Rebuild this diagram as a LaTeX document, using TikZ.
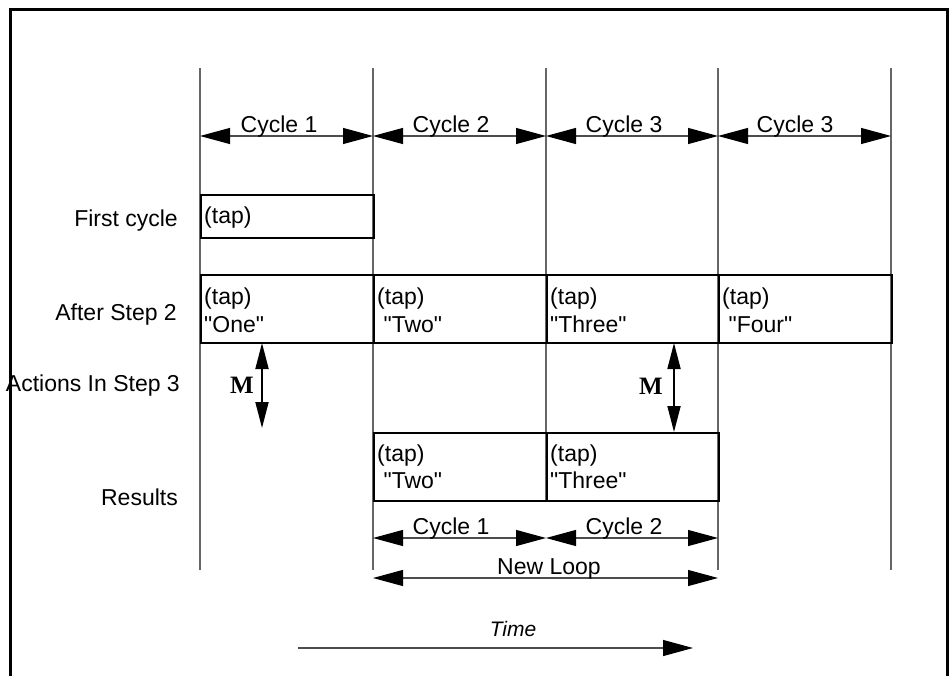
\documentclass[tikz,border=0pt]{standalone}
\usepackage{fontspec}
\setmainfont{Liberation Sans}[Ligatures=TeXOff]
\newfontfamily\mfont{Liberation Serif}
\usetikzlibrary{arrows.meta}
\newcommand\dq{\symbol{34}}
\begin{document}
\begin{tikzpicture}[x=1pt,y=-1pt,
  every node/.style={font=\fontsize{23}{28}\selectfont},
  grid/.style={draw=black!60,line width=1.1pt},
  frameline/.style={line width=3pt,black},
  tip/.style={},
  dim/.style={draw=black!70,line width=1.1pt,
    {Triangle[length=30pt,width=16pt,black]}-{Triangle[length=30pt,width=16pt,black]}},
  onedir/.style={draw=black!70,line width=1.1pt,-{Triangle[length=30pt,width=16pt,black]}},
  marrow/.style={draw=black,line width=1.8pt,
    {Triangle[length=26pt,width=13pt]}-{Triangle[length=26pt,width=13pt]}},
  slot/.style={draw=black,line width=2pt,rectangle,inner sep=0pt,anchor=north west,
    minimum height=68pt},
  lbl/.style={anchor=base,inner sep=0pt},
  rowlbl/.style={anchor=base east,inner sep=0pt},
  txt/.style={anchor=base west,inner sep=0pt},
  mlbl/.style={anchor=base,inner sep=0pt,font=\mfont\bfseries\fontsize{25}{28}\selectfont}]
\useasboundingbox (0,0) rectangle (949,676);

% outer frame, open at the bottom
\coordinate (fl) at (10.5,680);
\coordinate (ftl) at (10.5,10);
\coordinate (ftr) at (947,10);
\coordinate (fr) at (947,680);
\draw[frameline] (fl) -- (ftl) -- (ftr) -- (fr);

% time grid
\foreach \i/\x/\y in {1/200/570,2/373/570,3/546/500,4/718/570,5/891/570}{
  \coordinate (t\i) at (\x,68);
  \coordinate (b\i) at (\x,\y);
  \coordinate (c\i) at (\x,136);
  \draw[grid] (t\i) -- (b\i);
}

% cycle dimensions along the top
\draw[dim] (c1) -- (c2);
\draw[dim] (c2) -- (c3);
\draw[dim] (c3) -- (c4);
\draw[dim] (c4) -- (c5);
\node[lbl] (cy1) at (279,133) {Cycle 1};
\node[lbl] (cy2) at (451,133) {Cycle 2};
\node[lbl] (cy3) at (624,133) {Cycle 3};
\node[lbl] (cy4) at (795,133) {Cycle 3};

% row captions
\node[rowlbl] (r1) at (178,226) {First cycle};
\node[rowlbl] (r2) at (177,320) {After Step 2};
\node[rowlbl] (r3) at (180,391) {Actions In Step 3};
\node[rowlbl] (r4) at (178,505) {Results};

% first cycle
\node[slot,minimum width=173pt,minimum height=43pt] (f1) at (200,194) {};
\node[txt] (f1a) at (204,224) {(tap)};

% after step 2
\node[slot,minimum width=173pt] (a1) at (200,274) {};
\node[slot,minimum width=173pt] (a2) at (373,274) {};
\node[slot,minimum width=172pt] (a3) at (546,274) {};
\node[slot,minimum width=173pt] (a4) at (718,274) {};
\node[txt] (a1a) at (204,304) {(tap)};
\node[txt] (a1b) at (204,332) {\dq One\dq};
\node[txt] (a2a) at (377,304) {(tap)};
\node[txt] (a2b) at (377,332) {\ \dq Two\dq};
\node[txt] (a3a) at (550,304) {(tap)};
\node[txt] (a3b) at (550,332) {\dq Three\dq};
\node[txt] (a4a) at (722,304) {(tap)};
\node[txt] (a4b) at (722,332) {\ \dq Four\dq};

% results
\node[slot,minimum width=173pt] (s1) at (373,432) {};
\node[slot,minimum width=172pt] (s2) at (546,432) {};
\node[txt] (s1a) at (377,461) {(tap)};
\node[txt] (s1b) at (377,488) {\ \dq Two\dq};
\node[txt] (s2a) at (550,461) {(tap)};
\node[txt] (s2b) at (550,488) {\dq Three\dq};

% moves in step 3
\coordinate (m1a) at (262,343);
\coordinate (m1b) at (262,428);
\coordinate (m2a) at (674,343);
\coordinate (m2b) at (674,432);
\draw[marrow] (m1a) -- (m1b);
\draw[marrow] (m2a) -- (m2b);
\node[mlbl] (ml1) at (242,393) {M};
\node[mlbl] (ml2) at (651,394) {M};

% new loop dimensions
\coordinate (d1) at (373,538);
\coordinate (d2) at (546,538);
\coordinate (d3) at (718,538);
\draw[dim] (d1) -- (d2);
\draw[dim] (d2) -- (d3);
\node[lbl] (lc1) at (451,534) {Cycle 1};
\node[lbl] (lc2) at (624,534) {Cycle 2};
\coordinate (n1) at (373,578);
\coordinate (n2) at (718,578);
\draw[dim] (n1) -- (n2);
\node[lbl] (nl) at (549,574) {New Loop};

% time axis
\coordinate (ta) at (298,648);
\coordinate (tb) at (693,648);
\draw[onedir] (ta) -- (tb);
\node[lbl,font=\itshape\fontsize{21}{26}\selectfont] (tm) at (513,636) {Time};
\end{tikzpicture}
\end{document}
